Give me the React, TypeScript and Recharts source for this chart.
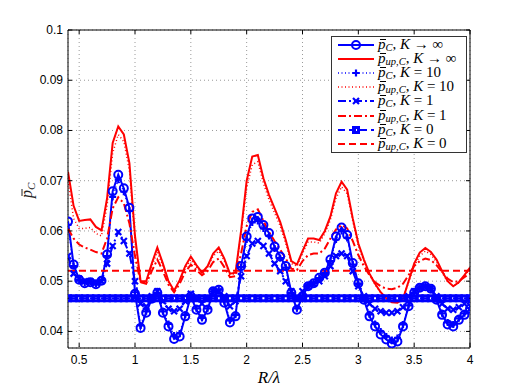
import React from "react";
import { CartesianGrid, Line, LineChart, XAxis, YAxis } from "recharts";

const ratio = [
  0.4, 0.45, 0.5, 0.55, 0.6, 0.65, 0.7, 0.75, 0.8, 0.85, 0.9, 0.95, 1.0,
  1.05, 1.1, 1.15, 1.2, 1.25, 1.3, 1.35, 1.4, 1.45, 1.5, 1.55, 1.6, 1.65,
  1.7, 1.75, 1.8, 1.85, 1.9, 1.95, 2.0, 2.05, 2.1, 2.15, 2.2, 2.25, 2.3,
  2.35, 2.4, 2.45, 2.5, 2.55, 2.6, 2.65, 2.7, 2.75, 2.8, 2.85, 2.9, 2.95,
  3.0, 3.05, 3.1, 3.15, 3.2, 3.25, 3.3, 3.35, 3.4, 3.45, 3.5, 3.55, 3.6,
  3.65, 3.7, 3.75, 3.8, 3.85, 3.9, 3.95, 4.0,
];

// blue, K -> inf
const pInf = [
  0.0619, 0.0533, 0.0503, 0.0496, 0.0498, 0.0494, 0.0501, 0.0553, 0.0679,
  0.0712, 0.0685, 0.0646, 0.0475, 0.0407, 0.0437, 0.0465, 0.0477, 0.0437,
  0.041, 0.0385, 0.039, 0.043, 0.047, 0.0443, 0.0423, 0.0443, 0.048, 0.0483,
  0.0457, 0.0418, 0.043, 0.053, 0.0589, 0.0625, 0.0628, 0.0612, 0.0596,
  0.0569, 0.0549, 0.053, 0.0477, 0.0443, 0.047, 0.049, 0.0496, 0.0507,
  0.0517, 0.0543, 0.0589, 0.0607, 0.0592, 0.0536, 0.0496, 0.0463, 0.043,
  0.041, 0.0394, 0.0384, 0.0376, 0.038, 0.041, 0.045, 0.0477, 0.0487, 0.049,
  0.0485, 0.0463, 0.0433, 0.0414, 0.041, 0.0423, 0.0433, 0.0445,
];
// red, K -> inf
const upInf = [
  0.0718, 0.065, 0.062, 0.0622, 0.0623, 0.0608, 0.0601, 0.0665, 0.0775,
  0.0808, 0.0792, 0.0735, 0.059, 0.05, 0.05, 0.0535, 0.0567, 0.0535, 0.05,
  0.0481, 0.0502, 0.053, 0.0549, 0.0532, 0.0517, 0.053, 0.0555, 0.0567,
  0.0545, 0.0515, 0.0517, 0.06, 0.07, 0.0748, 0.0751, 0.0705, 0.0672,
  0.0645, 0.0618, 0.0582, 0.054, 0.0533, 0.056, 0.0585, 0.0585, 0.0582,
  0.06, 0.0629, 0.0675, 0.0698, 0.0682, 0.0625, 0.0575, 0.0543, 0.0515,
  0.0495, 0.0478, 0.0466, 0.0458, 0.0457, 0.0465, 0.05, 0.0535, 0.0557,
  0.0566, 0.0558, 0.0543, 0.052, 0.05, 0.049, 0.0498, 0.0512, 0.0527,
];
// blue, K = 10
const p10 = [
  0.0612, 0.053, 0.0503, 0.0497, 0.0499, 0.0495, 0.0502, 0.055, 0.0668,
  0.0702, 0.0678, 0.064, 0.0478, 0.0412, 0.044, 0.0466, 0.0477, 0.044,
  0.0415, 0.0392, 0.0396, 0.0433, 0.047, 0.0446, 0.0427, 0.0446, 0.048,
  0.0483, 0.046, 0.0422, 0.0433, 0.0528, 0.0583, 0.0617, 0.062, 0.0605,
  0.059, 0.0565, 0.0546, 0.0527, 0.0477, 0.0446, 0.047, 0.049, 0.0496,
  0.0506, 0.0516, 0.054, 0.0583, 0.06, 0.0586, 0.0533, 0.0495, 0.0465,
  0.0434, 0.0415, 0.04, 0.039, 0.0383, 0.0387, 0.0414, 0.0452, 0.0477,
  0.0487, 0.049, 0.0485, 0.0464, 0.0436, 0.0418, 0.0414, 0.0426, 0.0436,
  0.0447,
];
// red, K = 10
const up10 = [
  0.07, 0.0625, 0.0605, 0.0605, 0.0607, 0.0595, 0.059, 0.065, 0.0755,
  0.0792, 0.0778, 0.072, 0.058, 0.0498, 0.0497, 0.053, 0.0558, 0.053,
  0.0498, 0.048, 0.05, 0.0525, 0.0543, 0.0528, 0.0515, 0.0527, 0.055, 0.056,
  0.054, 0.0513, 0.0515, 0.0595, 0.0685, 0.0732, 0.0738, 0.0695, 0.0662,
  0.0636, 0.061, 0.0575, 0.0535, 0.053, 0.0555, 0.0578, 0.0578, 0.0576,
  0.0595, 0.0622, 0.0665, 0.0688, 0.0674, 0.062, 0.057, 0.054, 0.0513,
  0.0493, 0.0477, 0.0466, 0.0459, 0.0458, 0.0466, 0.0498, 0.053, 0.055,
  0.056, 0.0553, 0.0538, 0.0517, 0.0499, 0.049, 0.0497, 0.051, 0.0524,
];
// blue, K = 1
const p1 = [
  0.055, 0.0515, 0.0505, 0.05, 0.05, 0.0497, 0.05, 0.0535, 0.057, 0.0598,
  0.058, 0.0555, 0.05, 0.0455, 0.045, 0.047, 0.048, 0.046, 0.0445, 0.044,
  0.0445, 0.046, 0.0475, 0.0465, 0.0455, 0.0465, 0.048, 0.048, 0.047, 0.045,
  0.046, 0.051, 0.055, 0.0575, 0.058, 0.057, 0.0555, 0.0535, 0.052, 0.05,
  0.048, 0.0465, 0.048, 0.049, 0.0495, 0.05, 0.051, 0.053, 0.055, 0.0555,
  0.055, 0.052, 0.049, 0.047, 0.0455, 0.0445, 0.044, 0.0437, 0.0437, 0.044,
  0.0448, 0.047, 0.048, 0.0487, 0.049, 0.0485, 0.047, 0.0455, 0.0445,
  0.0443, 0.0448, 0.0455, 0.046,
];
// red, K = 1
const up1 = [
  0.0605, 0.0585, 0.0573, 0.0567, 0.0563, 0.0558, 0.0555, 0.0585, 0.0645,
  0.0667, 0.0655, 0.0615, 0.055, 0.0498, 0.0495, 0.052, 0.0543, 0.052,
  0.0493, 0.0478, 0.0495, 0.0518, 0.0533, 0.0522, 0.0512, 0.052, 0.0538,
  0.0545, 0.0528, 0.0508, 0.051, 0.0555, 0.061, 0.0638, 0.0643, 0.062,
  0.0598, 0.058, 0.0563, 0.0545, 0.0525, 0.0522, 0.054, 0.0552, 0.0555,
  0.0555, 0.0565, 0.0585, 0.0603, 0.0612, 0.0605, 0.058, 0.0552, 0.053,
  0.0512, 0.0498, 0.049, 0.0485, 0.0484, 0.0487, 0.0495, 0.0512, 0.053,
  0.054, 0.0545, 0.0542, 0.0532, 0.0518, 0.0505, 0.0498, 0.05, 0.0508,
  0.0515,
];
// K = 0 is flat
const p0 = 0.0466;
const up0 = 0.0521;

const xTicks = [0.5, 1, 1.5, 2, 2.5, 3, 3.5, 4];
const yTicks = [0.04, 0.05, 0.06, 0.07, 0.08, 0.09, 0.1];

const data = ratio.map((x, i) => ({
  x,
  pInf: pInf[i],
  upInf: upInf[i],
  p10: p10[i],
  up10: up10[i],
  p1: p1[i],
  up1: up1[i],
  p0,
  up0,
}));

const BLUE = "#0000ff";
const RED = "#ff0000";
const TICK_FONT = "'Liberation Sans', Arial, sans-serif";
const MATH_FONT = "'Liberation Serif', 'Times New Roman', serif";

type Marker = "circle" | "plus" | "cross" | "square" | "none";

const drawMarker = (kind: Marker, cx: number, cy: number, color: string, key?: any) => {
  if (kind === "circle")
    return <circle key={key} cx={cx} cy={cy} r={4} fill="none" stroke={color} strokeWidth={2} />;
  if (kind === "plus")
    return (
      <path key={key} d={`M${cx - 3.5},${cy}h7M${cx},${cy - 3.5}v7`} stroke={color} strokeWidth={2.2} />
    );
  if (kind === "cross")
    return (
      <path
        key={key}
        d={`M${cx - 3},${cy - 3}l6,6M${cx - 3},${cy + 3}l6,-6`}
        stroke={color}
        strokeWidth={2.2}
      />
    );
  if (kind === "square")
    return (
      <rect key={key} x={cx - 2.5} y={cy - 2.5} width={5} height={5} fill="none" stroke={color} strokeWidth={3} />
    );
  return <g key={key} />;
};

const series = [
  { key: "pInf", color: BLUE, dash: undefined, width: 2, marker: "circle" as Marker, sub: "C", k: "→ ∞" },
  { key: "upInf", color: RED, dash: undefined, width: 2, marker: "none" as Marker, sub: "up,C", k: "→ ∞" },
  { key: "p10", color: BLUE, dash: "1 2.5", width: 1.5, marker: "plus" as Marker, sub: "C", k: "= 10" },
  { key: "up10", color: RED, dash: "1 2.5", width: 1.5, marker: "none" as Marker, sub: "up,C", k: "= 10" },
  { key: "p1", color: BLUE, dash: "8 3 2 3", width: 2, marker: "cross" as Marker, sub: "C", k: "= 1" },
  { key: "up1", color: RED, dash: "8 3 2 3", width: 2, marker: "none" as Marker, sub: "up,C", k: "= 1" },
  { key: "p0", color: BLUE, dash: "7 4", width: 2, marker: "square" as Marker, sub: "C", k: "= 0" },
  { key: "up0", color: RED, dash: "7 4", width: 2, marker: "none" as Marker, sub: "up,C", k: "= 0" },
];

const fmtY = (v: number) => String(Number(v.toFixed(2)));

const BottomTick = (props: any) => {
  const { x, y, payload } = props;
  return (
    <g>
      <line x1={x} y1={y - 1} x2={x} y2={y - 5} stroke="#000" />
      <text x={x} y={y + 16} textAnchor="middle" fontSize={12} fontFamily={TICK_FONT} fill="#000">
        {String(payload.value)}
      </text>
    </g>
  );
};

const TopTick = (props: any) => {
  const { x, y } = props;
  return <line x1={x} y1={y} x2={x} y2={y + 4} stroke="#000" />;
};

const LeftTick = (props: any) => {
  const { x, y, payload } = props;
  return (
    <g>
      <line x1={x} y1={y} x2={x + 4} y2={y} stroke="#000" />
      <text x={x - 5} y={y + 4} textAnchor="end" fontSize={12} fontFamily={TICK_FONT} fill="#000">
        {fmtY(payload.value)}
      </text>
    </g>
  );
};

const RightTick = (props: any) => {
  const { x, y } = props;
  return <line x1={x} y1={y} x2={x - 4} y2={y} stroke="#000" />;
};

// p with a bar over it
const PBar = () => (
  <span style={{ position: "relative", display: "inline-block", fontStyle: "italic" }}>
    p
    <span
      style={{
        position: "absolute",
        left: 1.5,
        top: 2,
        width: 6,
        height: 1,
        background: "#000",
      }}
    />
  </span>
);

const LegendBox = () => (
  <div
    style={{
      position: "absolute",
      left: 331,
      top: 36,
      width: 134,
      height: 115,
      border: "1px solid #333",
      background: "#fff",
    }}
  >
    {series.map((s, i) => (
      <div
        key={s.key}
        style={{
          position: "absolute",
          left: 0,
          top: 0.5 + i * 14.2,
          height: 14,
          width: 134,
        }}
      >
        <svg width={46} height={14} style={{ position: "absolute", left: 0, top: 0 }}>
          <line
            x1={6}
            y1={7}
            x2={42}
            y2={7}
            stroke={s.color}
            strokeWidth={s.width}
            strokeDasharray={s.dash}
          />
          {drawMarker(s.marker, 24, 7, s.color)}
        </svg>
        <div
          style={{
            position: "absolute",
            left: 46,
            top: -1,
            fontFamily: MATH_FONT,
            fontSize: 15,
            lineHeight: "14px",
            whiteSpace: "nowrap",
            color: "#000",
          }}
        >
          <PBar />
          <i style={{ fontSize: 10.5, position: "relative", top: 2 }}>{s.sub}</i>
          {", "}
          <i>K</i> {s.k}
        </div>
      </div>
    ))}
  </div>
);

export default function App() {
  return (
    <div style={{ position: "absolute", left: 0, top: 0, width: 522, height: 392, background: "#fff" }}>
      <LineChart
        width={522}
        height={392}
        data={data}
        margin={{ top: 29, right: 51, bottom: 43, left: 67 }}
      >
        <CartesianGrid stroke="#9a9a9a" strokeDasharray="1 3" />
        <XAxis
          dataKey="x"
          type="number"
          domain={[0.4, 4]}
          ticks={xTicks}
          allowDataOverflow
          height={1}
          tickSize={0}
          tickMargin={0}
          tick={<BottomTick />}
          axisLine={{ stroke: "#000" }}
          tickLine={false}
          interval={0}
        />
        <XAxis
          xAxisId="top"
          orientation="top"
          dataKey="x"
          type="number"
          domain={[0.4, 4]}
          ticks={xTicks}
          allowDataOverflow
          height={1}
          tickSize={0}
          tickMargin={0}
          tick={<TopTick />}
          axisLine={{ stroke: "#000" }}
          tickLine={false}
          interval={0}
        />
        <YAxis
          type="number"
          domain={[0.0367, 0.1]}
          ticks={yTicks}
          allowDataOverflow
          width={1}
          tickSize={0}
          tickMargin={0}
          tick={<LeftTick />}
          axisLine={{ stroke: "#000" }}
          tickLine={false}
          interval={0}
        />
        <YAxis
          yAxisId="right"
          orientation="right"
          type="number"
          domain={[0.0367, 0.1]}
          ticks={yTicks}
          allowDataOverflow
          width={1}
          tickSize={0}
          tickMargin={0}
          tick={<RightTick />}
          axisLine={{ stroke: "#000" }}
          tickLine={false}
          interval={0}
        />
        {series.map((s) => (
          <Line
            key={s.key}
            dataKey={s.key}
            type="linear"
            stroke={s.color}
            strokeWidth={s.width}
            strokeDasharray={s.dash}
            isAnimationActive={false}
            activeDot={false}
            dot={
              s.marker === "none"
                ? false
                : (p: any) => drawMarker(s.marker, p.cx, p.cy, s.color, `${s.key}-${p.index}`)
            }
          />
        ))}
        <text
          x={269}
          y={383}
          textAnchor="middle"
          fontFamily={MATH_FONT}
          fontStyle="italic"
          fontSize={17}
          fill="#000"
        >
          R/λ
        </text>
        <g transform="translate(32,190) rotate(-90)">
          <text
            x={-8}
            y={0}
            textAnchor="start"
            fontFamily={MATH_FONT}
            fontStyle="italic"
            fontSize={16}
            fill="#222"
          >
            p
            <tspan fontSize={11} dy={3}>
              C
            </tspan>
          </text>
          <line x1={-6} y1={-10} x2={1} y2={-10} stroke="#222" strokeWidth={1} />
        </g>
      </LineChart>
      <LegendBox />
    </div>
  );
}
